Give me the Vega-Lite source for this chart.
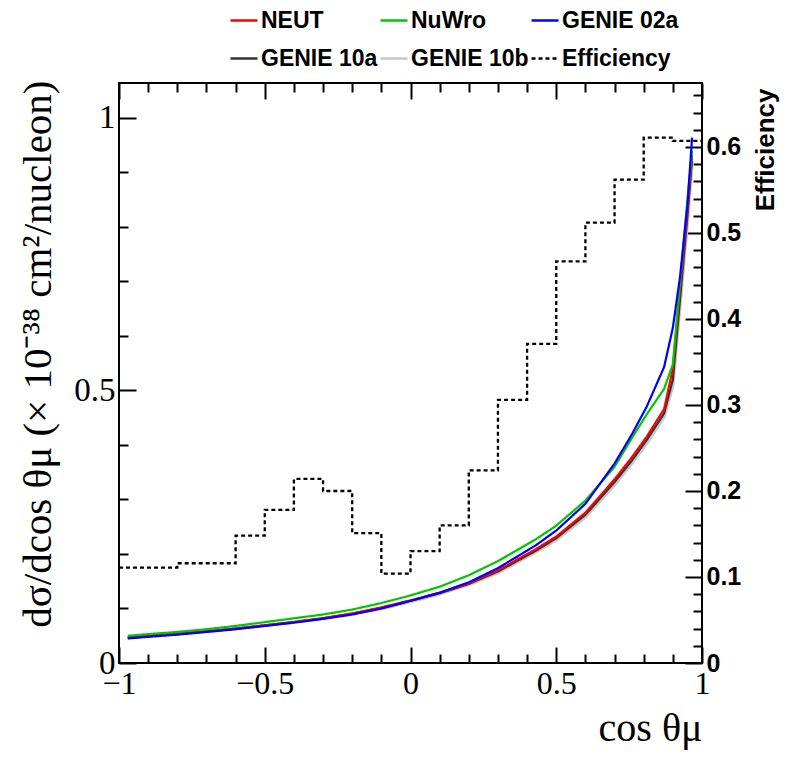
{
  "$schema": "https://vega.github.io/schema/vega-lite/v6.json",
  "autosize": "none",
  "width": 583,
  "height": 580,
  "padding": {"left": 119, "top": 83, "right": 96, "bottom": 108},
  "background": "white",
  "datasets": {
    "curves": [
      {"s": "GENIE 10b", "x": -0.97, "y": 0.047}, {"s": "GENIE 10b", "x": -0.9, "y": 0.050}, {"s": "GENIE 10b", "x": -0.8, "y": 0.054},
      {"s": "GENIE 10b", "x": -0.7, "y": 0.058}, {"s": "GENIE 10b", "x": -0.6, "y": 0.063}, {"s": "GENIE 10b", "x": -0.5, "y": 0.069},
      {"s": "GENIE 10b", "x": -0.4, "y": 0.075}, {"s": "GENIE 10b", "x": -0.3, "y": 0.082}, {"s": "GENIE 10b", "x": -0.2, "y": 0.090},
      {"s": "GENIE 10b", "x": -0.1, "y": 0.100}, {"s": "GENIE 10b", "x": 0.0, "y": 0.113}, {"s": "GENIE 10b", "x": 0.1, "y": 0.127},
      {"s": "GENIE 10b", "x": 0.2, "y": 0.144}, {"s": "GENIE 10b", "x": 0.3, "y": 0.166}, {"s": "GENIE 10b", "x": 0.43, "y": 0.204},
      {"s": "GENIE 10b", "x": 0.5, "y": 0.226}, {"s": "GENIE 10b", "x": 0.6, "y": 0.268}, {"s": "GENIE 10b", "x": 0.7, "y": 0.327},
      {"s": "GENIE 10b", "x": 0.76, "y": 0.367}, {"s": "GENIE 10b", "x": 0.81, "y": 0.403}, {"s": "GENIE 10b", "x": 0.87, "y": 0.452},
      {"s": "GENIE 10b", "x": 0.9, "y": 0.51}, {"s": "GENIE 10b", "x": 0.925, "y": 0.66}, {"s": "GENIE 10b", "x": 0.95, "y": 0.81},
      {"s": "GENIE 10b", "x": 0.966, "y": 0.92},

      {"s": "GENIE 10a", "x": -0.97, "y": 0.047}, {"s": "GENIE 10a", "x": -0.9, "y": 0.050}, {"s": "GENIE 10a", "x": -0.8, "y": 0.054},
      {"s": "GENIE 10a", "x": -0.7, "y": 0.058}, {"s": "GENIE 10a", "x": -0.6, "y": 0.063}, {"s": "GENIE 10a", "x": -0.5, "y": 0.069},
      {"s": "GENIE 10a", "x": -0.4, "y": 0.075}, {"s": "GENIE 10a", "x": -0.3, "y": 0.082}, {"s": "GENIE 10a", "x": -0.2, "y": 0.090},
      {"s": "GENIE 10a", "x": -0.1, "y": 0.101}, {"s": "GENIE 10a", "x": 0.0, "y": 0.114}, {"s": "GENIE 10a", "x": 0.1, "y": 0.128},
      {"s": "GENIE 10a", "x": 0.2, "y": 0.145}, {"s": "GENIE 10a", "x": 0.3, "y": 0.168}, {"s": "GENIE 10a", "x": 0.43, "y": 0.206},
      {"s": "GENIE 10a", "x": 0.5, "y": 0.229}, {"s": "GENIE 10a", "x": 0.6, "y": 0.272}, {"s": "GENIE 10a", "x": 0.7, "y": 0.332},
      {"s": "GENIE 10a", "x": 0.76, "y": 0.372}, {"s": "GENIE 10a", "x": 0.81, "y": 0.409}, {"s": "GENIE 10a", "x": 0.87, "y": 0.458},
      {"s": "GENIE 10a", "x": 0.9, "y": 0.52}, {"s": "GENIE 10a", "x": 0.925, "y": 0.67}, {"s": "GENIE 10a", "x": 0.95, "y": 0.82},
      {"s": "GENIE 10a", "x": 0.966, "y": 0.925},

      {"s": "NEUT", "x": -0.97, "y": 0.046}, {"s": "NEUT", "x": -0.9, "y": 0.049}, {"s": "NEUT", "x": -0.8, "y": 0.053},
      {"s": "NEUT", "x": -0.7, "y": 0.058}, {"s": "NEUT", "x": -0.6, "y": 0.063}, {"s": "NEUT", "x": -0.5, "y": 0.069},
      {"s": "NEUT", "x": -0.4, "y": 0.075}, {"s": "NEUT", "x": -0.3, "y": 0.082}, {"s": "NEUT", "x": -0.2, "y": 0.091},
      {"s": "NEUT", "x": -0.1, "y": 0.102}, {"s": "NEUT", "x": 0.0, "y": 0.115}, {"s": "NEUT", "x": 0.1, "y": 0.129},
      {"s": "NEUT", "x": 0.2, "y": 0.146}, {"s": "NEUT", "x": 0.3, "y": 0.170}, {"s": "NEUT", "x": 0.43, "y": 0.209},
      {"s": "NEUT", "x": 0.5, "y": 0.232}, {"s": "NEUT", "x": 0.6, "y": 0.276}, {"s": "NEUT", "x": 0.7, "y": 0.337},
      {"s": "NEUT", "x": 0.76, "y": 0.378}, {"s": "NEUT", "x": 0.81, "y": 0.415}, {"s": "NEUT", "x": 0.87, "y": 0.466},
      {"s": "NEUT", "x": 0.9, "y": 0.54}, {"s": "NEUT", "x": 0.925, "y": 0.69}, {"s": "NEUT", "x": 0.95, "y": 0.83},
      {"s": "NEUT", "x": 0.966, "y": 0.932},

      {"s": "NuWro", "x": -0.97, "y": 0.050}, {"s": "NuWro", "x": -0.9, "y": 0.053}, {"s": "NuWro", "x": -0.8, "y": 0.057},
      {"s": "NuWro", "x": -0.7, "y": 0.062}, {"s": "NuWro", "x": -0.6, "y": 0.068}, {"s": "NuWro", "x": -0.5, "y": 0.075},
      {"s": "NuWro", "x": -0.4, "y": 0.082}, {"s": "NuWro", "x": -0.3, "y": 0.089}, {"s": "NuWro", "x": -0.2, "y": 0.098},
      {"s": "NuWro", "x": -0.1, "y": 0.110}, {"s": "NuWro", "x": 0.0, "y": 0.124}, {"s": "NuWro", "x": 0.1, "y": 0.140},
      {"s": "NuWro", "x": 0.2, "y": 0.161}, {"s": "NuWro", "x": 0.3, "y": 0.187}, {"s": "NuWro", "x": 0.43, "y": 0.227},
      {"s": "NuWro", "x": 0.5, "y": 0.252}, {"s": "NuWro", "x": 0.6, "y": 0.298}, {"s": "NuWro", "x": 0.7, "y": 0.360},
      {"s": "NuWro", "x": 0.76, "y": 0.413}, {"s": "NuWro", "x": 0.81, "y": 0.456}, {"s": "NuWro", "x": 0.87, "y": 0.503},
      {"s": "NuWro", "x": 0.9, "y": 0.548}, {"s": "NuWro", "x": 0.925, "y": 0.70}, {"s": "NuWro", "x": 0.95, "y": 0.85},
      {"s": "NuWro", "x": 0.966, "y": 0.94},

      {"s": "GENIE 02a", "x": -0.97, "y": 0.045}, {"s": "GENIE 02a", "x": -0.9, "y": 0.048}, {"s": "GENIE 02a", "x": -0.8, "y": 0.052},
      {"s": "GENIE 02a", "x": -0.7, "y": 0.057}, {"s": "GENIE 02a", "x": -0.6, "y": 0.062}, {"s": "GENIE 02a", "x": -0.5, "y": 0.068},
      {"s": "GENIE 02a", "x": -0.4, "y": 0.074}, {"s": "GENIE 02a", "x": -0.3, "y": 0.081}, {"s": "GENIE 02a", "x": -0.2, "y": 0.089},
      {"s": "GENIE 02a", "x": -0.1, "y": 0.100}, {"s": "GENIE 02a", "x": 0.0, "y": 0.114}, {"s": "GENIE 02a", "x": 0.1, "y": 0.129},
      {"s": "GENIE 02a", "x": 0.2, "y": 0.148}, {"s": "GENIE 02a", "x": 0.3, "y": 0.174}, {"s": "GENIE 02a", "x": 0.43, "y": 0.216},
      {"s": "GENIE 02a", "x": 0.5, "y": 0.243}, {"s": "GENIE 02a", "x": 0.6, "y": 0.292}, {"s": "GENIE 02a", "x": 0.7, "y": 0.366},
      {"s": "GENIE 02a", "x": 0.76, "y": 0.420}, {"s": "GENIE 02a", "x": 0.81, "y": 0.470}, {"s": "GENIE 02a", "x": 0.87, "y": 0.543},
      {"s": "GENIE 02a", "x": 0.9, "y": 0.615}, {"s": "GENIE 02a", "x": 0.925, "y": 0.71}, {"s": "GENIE 02a", "x": 0.95, "y": 0.84},
      {"s": "GENIE 02a", "x": 0.966, "y": 0.964}
    ],
    "eff": [
      {"s": "Efficiency", "x": -1.0, "e": 0.111},
      {"s": "Efficiency", "x": -0.8, "e": 0.116},
      {"s": "Efficiency", "x": -0.6, "e": 0.148},
      {"s": "Efficiency", "x": -0.5, "e": 0.178},
      {"s": "Efficiency", "x": -0.4, "e": 0.214},
      {"s": "Efficiency", "x": -0.3, "e": 0.200},
      {"s": "Efficiency", "x": -0.2, "e": 0.151},
      {"s": "Efficiency", "x": -0.1, "e": 0.104},
      {"s": "Efficiency", "x": 0.0, "e": 0.130},
      {"s": "Efficiency", "x": 0.1, "e": 0.160},
      {"s": "Efficiency", "x": 0.2, "e": 0.224},
      {"s": "Efficiency", "x": 0.3, "e": 0.306},
      {"s": "Efficiency", "x": 0.4, "e": 0.371},
      {"s": "Efficiency", "x": 0.5, "e": 0.467},
      {"s": "Efficiency", "x": 0.6, "e": 0.512},
      {"s": "Efficiency", "x": 0.7, "e": 0.562},
      {"s": "Efficiency", "x": 0.8, "e": 0.611},
      {"s": "Efficiency", "x": 0.9, "e": 0.607},
      {"s": "Efficiency", "x": 1.0, "e": 0.607}
    ]
  },
  "resolve": {
    "scale": {"y": "independent"},
    "axis": {"x": "independent", "y": "independent"}
  },
  "layer": [
    {
      "data": {"name": "curves"},
      "mark": {"type": "line", "strokeJoin": "round"},
      "encoding": {
        "x": {
          "field": "x", "type": "quantitative",
          "scale": {"domain": [-1, 1], "nice": false, "zero": false},
          "axis": {
            "orient": "bottom", "values": [-1, -0.5, 0, 0.5, 1], "format": "~g",
            "tickSize": -16, "labelPadding": 21,
            "labelFont": "Liberation Serif", "labelFontSize": 32,
            "title": "cos θμ", "titleFont": "Liberation Serif", "titleFontSize": 40, "titleFontWeight": "normal",
            "titleX": 583, "titleY": 77, "titleAlign": "right", "titleBaseline": "alphabetic"
          }
        },
        "y": {
          "field": "y", "type": "quantitative",
          "scale": {"domain": [0, 1.0642], "nice": false, "zero": false},
          "axis": {
            "orient": "left", "values": [0, 0.5, 1], "format": "~g",
            "tickSize": -17, "labelPadding": 21,
            "labelFont": "Liberation Serif", "labelFontSize": 33,
            "title": "dσ/dcos θμ (× 10⁻³⁸ cm²/nucleon)", "titleFont": "Liberation Serif", "titleFontSize": 41, "titleFontWeight": "normal",
            "titleAngle": -90, "titleX": -69, "titleY": -3, "titleAlign": "right", "titleBaseline": "alphabetic"
          }
        },
        "color": {
          "field": "s", "type": "nominal",
          "scale": {
            "domain": ["NEUT", "NuWro", "GENIE 02a", "GENIE 10a", "GENIE 10b", "Efficiency"],
            "range": ["#ff0000", "#00c800", "#0000ff", "#333333", "#c8c8c8", "#000000"]
          },
          "legend": {"orient": "none", "legendX": 110, "legendY": -77.5, "columns": 3, "direction": "horizontal", "title": null, "symbolType": "stroke"}
        },
        "strokeDash": {
          "field": "s", "type": "nominal",
          "scale": {
            "domain": ["NEUT", "NuWro", "GENIE 02a", "GENIE 10a", "GENIE 10b", "Efficiency"],
            "range": [[1, 0], [1, 0], [1, 0], [1, 0], [1, 0], [4, 3]]
          },
          "legend": {"orient": "none", "legendX": 110, "legendY": -77.5, "columns": 3, "direction": "horizontal", "title": null, "symbolType": "stroke"}
        },
        "strokeWidth": {"condition": {"test": "datum.s === 'GENIE 10b'", "value": 3.5}, "value": 2.2}
      }
    },
    {
      "data": {"name": "eff"},
      "mark": {"type": "line", "interpolate": "step-after", "strokeWidth": 2.3},
      "encoding": {
        "x": {
          "field": "x", "type": "quantitative",
          "scale": {"domain": [-1, 1], "nice": false, "zero": false},
          "axis": {"orient": "top", "values": [-1, -0.5, 0, 0.5, 1], "tickSize": -16, "labels": false, "title": null}
        },
        "y": {
          "field": "e", "type": "quantitative",
          "scale": {"domain": [0, 0.6744], "nice": false, "zero": false},
          "axis": {
            "orient": "right", "values": [0, 0.1, 0.2, 0.3, 0.4, 0.5, 0.6], "format": "~g",
            "tickSize": -17, "labelPadding": 21,
            "labelFont": "Liberation Sans", "labelFontWeight": "bold", "labelFontSize": 25,
            "title": "Efficiency", "titleFont": "Liberation Sans", "titleFontWeight": "bold", "titleFontSize": 26,
            "titleAngle": -90, "titleX": 71, "titleY": 5, "titleAlign": "right", "titleBaseline": "alphabetic"
          }
        },
        "color": {"field": "s", "type": "nominal"},
        "strokeDash": {"field": "s", "type": "nominal"}
      }
    },
    {
      "data": {"name": "curves"},
      "mark": {"type": "point", "opacity": 0},
      "encoding": {
        "x": {
          "field": "x", "type": "quantitative",
          "scale": {"domain": [-1, 1], "nice": false, "zero": false},
          "axis": {"orient": "bottom", "values": [-0.9, -0.8, -0.7, -0.6, -0.4, -0.3, -0.2, -0.1, 0.1, 0.2, 0.3, 0.4, 0.6, 0.7, 0.8, 0.9], "tickSize": -9, "labels": false, "title": null}
        },
        "y": {
          "field": "y", "type": "quantitative",
          "scale": {"domain": [0, 1.0642], "nice": false, "zero": false},
          "axis": {"orient": "left", "values": [0.1, 0.2, 0.3, 0.4, 0.6, 0.7, 0.8, 0.9], "tickSize": -9, "labels": false, "title": null}
        }
      }
    },
    {
      "data": {"name": "eff"},
      "mark": {"type": "point", "opacity": 0},
      "encoding": {
        "x": {
          "field": "x", "type": "quantitative",
          "scale": {"domain": [-1, 1], "nice": false, "zero": false},
          "axis": {"orient": "top", "values": [-0.9, -0.8, -0.7, -0.6, -0.4, -0.3, -0.2, -0.1, 0.1, 0.2, 0.3, 0.4, 0.6, 0.7, 0.8, 0.9], "tickSize": -9, "labels": false, "title": null}
        },
        "y": {
          "field": "e", "type": "quantitative",
          "scale": {"domain": [0, 0.6744], "nice": false, "zero": false},
          "axis": {"orient": "right", "values": [0.02, 0.04, 0.06, 0.08, 0.12, 0.14, 0.16, 0.18, 0.22, 0.24, 0.26, 0.28, 0.32, 0.34, 0.36, 0.38, 0.42, 0.44, 0.46, 0.48, 0.52, 0.54, 0.56, 0.58, 0.62, 0.64, 0.66], "tickSize": -9, "labels": false, "title": null}
        }
      }
    }
  ],
  "config": {
    "view": {"stroke": "black", "strokeWidth": 2},
    "axis": {
      "grid": false, "domain": false, "tickColor": "black", "tickWidth": 2,
      "labelColor": "black", "titleColor": "black", "labelFlush": false, "labelOverlap": false
    },
    "legend": {
      "padding": 0, "labelFont": "Liberation Sans", "labelFontWeight": "bold", "labelFontSize": 23,
      "labelColor": "black", "labelOffset": 2, "labelLimit": 300, "symbolSize": 729, "symbolStrokeWidth": 2.5,
      "symbolType": "stroke", "rowPadding": 11, "columnPadding": -3
    }
  }
}
